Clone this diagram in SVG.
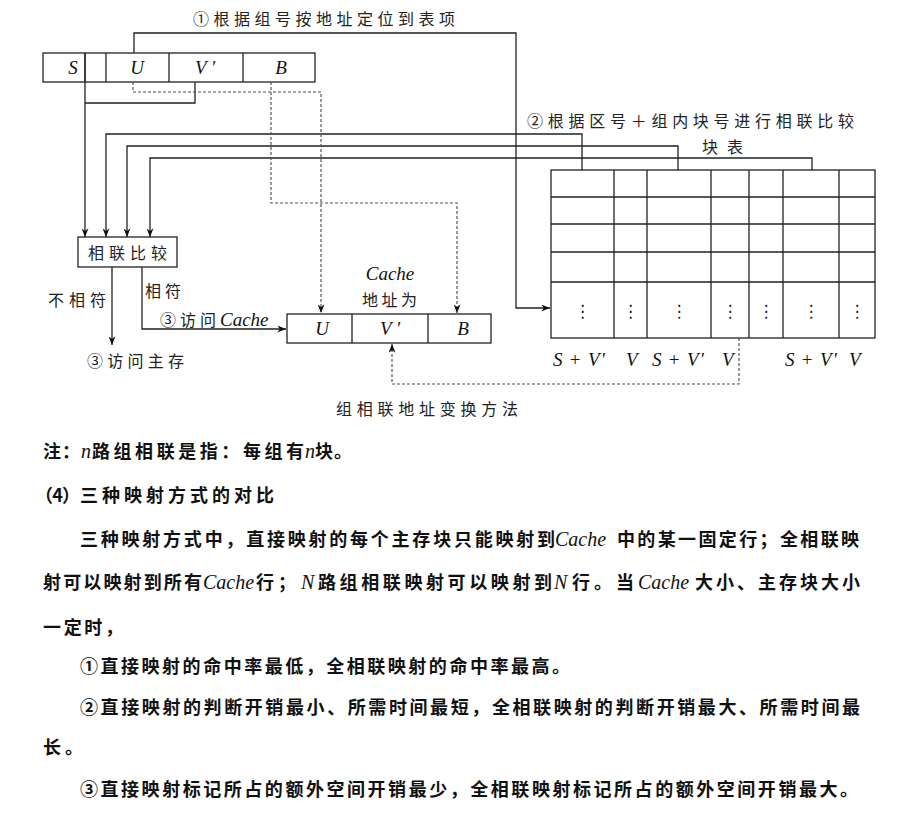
<svg xmlns="http://www.w3.org/2000/svg" width="906" height="817" viewBox="0 0 906 817">
<style>
.box{fill:#fff;stroke:#222;stroke-width:1.3}
.ln{fill:none;stroke:#222;stroke-width:1.3}
.dl{fill:none;stroke:#555;stroke-width:1.2;stroke-dasharray:3 2}
.cj{font-family:"Noto Sans CJK SC","Noto Sans",sans-serif;font-size:16px;fill:#222}
.it{font-family:"Liberation Serif","Times New Roman",serif;font-style:italic;font-size:19px;fill:#111}
.rm{font-family:"Liberation Serif","Times New Roman",serif;font-size:19px;fill:#111}
.dot{font-family:"DejaVu Sans",sans-serif;font-size:17px;fill:#222}
.bd{font-family:"Noto Sans CJK SC","Noto Sans",sans-serif;font-size:18px;font-weight:bold;fill:#111}
.bi{font-family:"Liberation Serif","Times New Roman",serif;font-style:italic;font-size:20px;fill:#111}
</style>
<defs>
<marker id="arr" viewBox="0 0 10 8" refX="10" refY="4" markerWidth="9" markerHeight="7" markerUnits="userSpaceOnUse" orient="auto"><path d="M0,0 L10,4 L0,8 L3,4 z" fill="#111"/></marker>
</defs>
<rect width="906" height="817" fill="#fff"/>

<g id="address">
<rect class="box" x="43" y="53" width="272" height="29"/>
<path class="ln" d="M85,53V82M106,53V82M169,53V82M243,53V82"/>
<text class="it" x="73" y="74" text-anchor="middle">S</text>
<text class="it" x="137" y="74" text-anchor="middle">U</text>
<text class="it" x="205" y="74" text-anchor="middle">V ′</text>
<text class="it" x="281" y="74" text-anchor="middle">B</text>
</g>

<g id="compare">
<rect class="box" x="78" y="237" width="99" height="30"/>
<text class="cj" x="88" y="259" textLength="79" lengthAdjust="spacing">相联比较</text>
</g>

<g id="cacheaddr">
<rect class="box" x="287" y="314" width="204" height="29"/>
<path class="ln" d="M352,314V343M428,314V343"/>
<text class="it" x="322" y="335" text-anchor="middle">U</text>
<text class="it" x="390" y="335" text-anchor="middle">V ′</text>
<text class="it" x="463" y="335" text-anchor="middle">B</text>
</g>

<g id="table">
<rect class="box" x="551" y="170" width="324" height="168"/>
<path class="ln" d="M614,170V338M647,170V338M711,170V338M749,170V338M783,170V338M839,170V338M551,197H875M551,224H875M551,252H875M551,282H875"/>
<g class="dot" text-anchor="middle">
<text x="582.5" y="317">⋮</text>
<text x="630.5" y="317">⋮</text>
<text x="679" y="317">⋮</text>
<text x="730" y="317">⋮</text>
<text x="766" y="317">⋮</text>
<text x="811" y="317">⋮</text>
<text x="857" y="317">⋮</text>
</g>
</g>

<g id="connectors">
<path class="ln" d="M85,53V237" marker-end="url(#arr)"/>
<path class="ln" d="M195,82V103H85"/>
<path class="ln" d="M582,170V134H106V237" marker-end="url(#arr)"/>
<path class="ln" d="M678,170V146H127V237" marker-end="url(#arr)"/>
<path class="ln" d="M812,170V158H150V237" marker-end="url(#arr)"/>
<path class="ln" d="M134,53V33H516V308H550" marker-end="url(#arr)"/>
<path class="ln" d="M112,267V345" marker-end="url(#arr)"/>
<path class="ln" d="M142,267V329H286" marker-end="url(#arr)"/>
<path class="dl" d="M133,82V92H321V313" marker-end="url(#arr)"/>
<path class="dl" d="M271,82V203H457V313" marker-end="url(#arr)"/>
<path class="dl" d="M739,338V384H392V344" marker-end="url(#arr)"/>
</g>

<g id="labels">
<text class="cj" x="193" y="25" textLength="262" lengthAdjust="spacing">①根据组号按地址定位到表项</text>
<text class="cj" x="527" y="127" textLength="327" lengthAdjust="spacing">②根据区号＋组内块号进行相联比较</text>
<text class="cj" x="702" y="153" textLength="41" lengthAdjust="spacing">块表</text>
<text class="cj" x="48" y="306" textLength="58" lengthAdjust="spacing">不相符</text>
<text class="cj" x="145" y="297" textLength="36" lengthAdjust="spacing">相符</text>
<text class="cj" x="160" y="326" textLength="56" lengthAdjust="spacing">③访问</text>
<text class="it" x="220" y="326">Cache</text>
<text class="cj" x="87" y="367" textLength="97" lengthAdjust="spacing">③访问主存</text>
<text class="it" x="390" y="280" text-anchor="middle">Cache</text>
<text class="cj" x="362" y="306" textLength="55" lengthAdjust="spacing">地址为</text>
<text class="cj" x="336" y="415" textLength="182" lengthAdjust="spacing">组相联地址变换方法</text>
<text class="it" x="553" y="366" textLength="52" lengthAdjust="spacing">S<tspan class="rm" font-style="normal"> + </tspan>V′</text>
<text class="it" x="626" y="366">V</text>
<text class="it" x="652" y="366" textLength="52" lengthAdjust="spacing">S<tspan class="rm" font-style="normal"> + </tspan>V′</text>
<text class="it" x="722" y="366">V</text>
<text class="it" x="785" y="366" textLength="52" lengthAdjust="spacing">S<tspan class="rm" font-style="normal"> + </tspan>V′</text>
<text class="it" x="849" y="366">V</text>
</g>

<g id="body">
<text class="bd" x="43" y="458" textLength="37" lengthAdjust="spacing">注：</text>
<text class="bi" x="81" y="458">n</text>
<text class="bd" x="92" y="458" textLength="212" lengthAdjust="spacing">路组相联是指：每组有</text>
<text class="bi" x="305" y="458">n</text>
<text class="bd" x="315" y="458" textLength="37" lengthAdjust="spacing">块。</text>

<text class="bd" x="35" y="502" textLength="45" lengthAdjust="spacing">（4）</text>
<text class="bd" x="80" y="502" textLength="194" lengthAdjust="spacing">三种映射方式的对比</text>

<text class="bd" x="80" y="546" textLength="475" lengthAdjust="spacing">三种映射方式中，直接映射的每个主存块只能映射到</text>
<text class="bi" x="555" y="546">Cache</text>
<text class="bd" x="617" y="546" textLength="242" lengthAdjust="spacing">中的某一固定行；全相联映</text>

<text class="bd" x="43" y="589" textLength="159" lengthAdjust="spacing">射可以映射到所有</text>
<text class="bi" x="203" y="589">Cache</text>
<text class="bd" x="256" y="589" textLength="40" lengthAdjust="spacing">行；</text>
<text class="bi" x="301" y="589">N</text>
<text class="bd" x="318" y="589" textLength="234" lengthAdjust="spacing">路组相联映射可以映射到</text>
<text class="bi" x="554" y="589">N</text>
<text class="bd" x="572" y="589" textLength="62" lengthAdjust="spacing">行。当</text>
<text class="bi" x="638" y="589">Cache</text>
<text class="bd" x="695" y="589" textLength="165" lengthAdjust="spacing">大小、主存块大小</text>

<text class="bd" x="43" y="634" textLength="80" lengthAdjust="spacing">一定时，</text>

<text class="bd" x="80" y="673" textLength="490" lengthAdjust="spacing">①直接映射的命中率最低，全相联映射的命中率最高。</text>
<text class="bd" x="80" y="714" textLength="780" lengthAdjust="spacing">②直接映射的判断开销最小、所需时间最短，全相联映射的判断开销最大、所需时间最</text>
<text class="bd" x="43" y="754" textLength="40" lengthAdjust="spacing">长。</text>
<text class="bd" x="80" y="796" textLength="778" lengthAdjust="spacing">③直接映射标记所占的额外空间开销最少，全相联映射标记所占的额外空间开销最大。</text>
</g>
</svg>
